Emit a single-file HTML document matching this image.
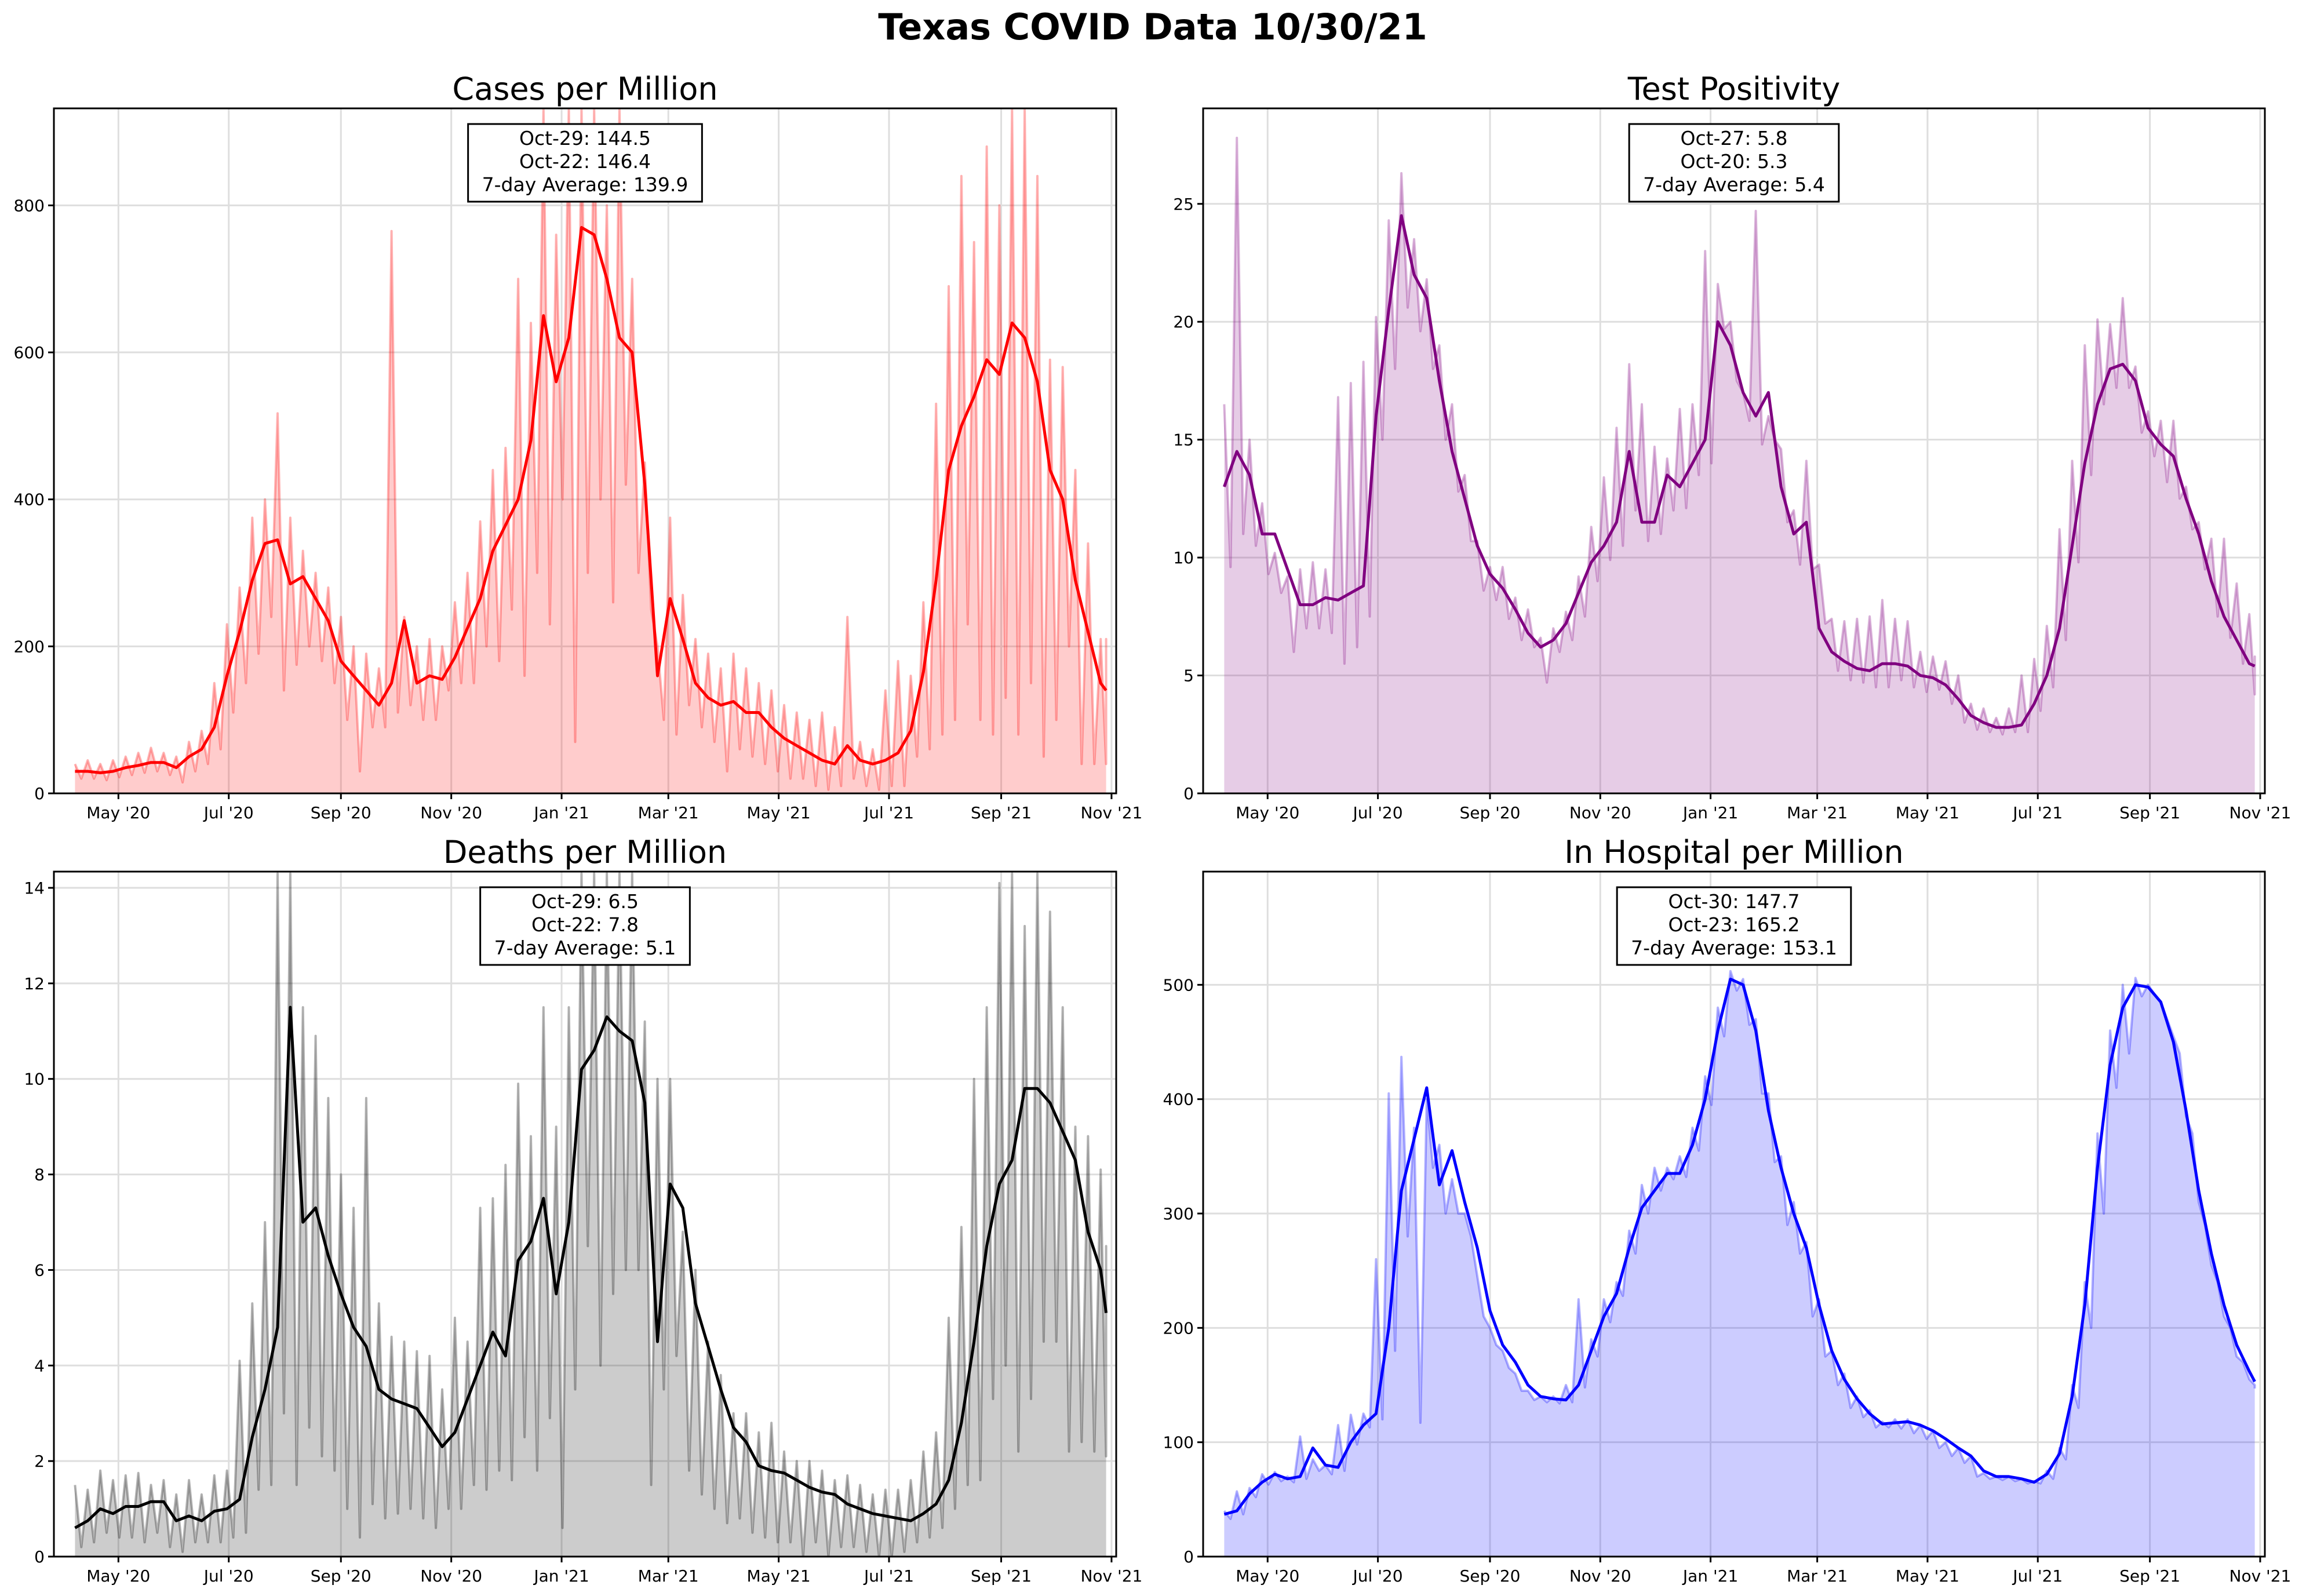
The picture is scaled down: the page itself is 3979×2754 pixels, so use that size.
<!DOCTYPE html>
<html><head><meta charset="utf-8">
<style>
html,body{margin:0;padding:0;background:#fff;}
svg{display:block;}
text{font-family:"DejaVu Sans","Liberation Sans",sans-serif;}
</style></head>
<body>
<svg id="fig" width="3979" height="2754" viewBox="0 0 3979 2754" xmlns="http://www.w3.org/2000/svg">
<rect width="3979" height="2754" fill="#fff"/>
<text x="1989" y="68" font-size="62" font-weight="bold" text-anchor="middle">Texas COVID Data 10/30/21</text>
</svg>
<script>
// ---- data: weekly values starting 2020-04-07, last point 2021-10-29 ----
const casesSmooth=[30,30,28,30,35,38,42,42,35,50,60,90,160,220,290,340,345,285,295,265,235,180,160,140,120,150,235,150,160,155,185,225,265,330,365,400,480,650,560,620,770,760,700,620,600,420,160,265,210,150,130,120,125,110,110,90,75,65,55,45,40,65,45,40,45,55,85,165,290,440,500,540,590,570,640,620,560,440,400,290,220,150,140];
const casesHigh=[40,45,40,45,50,55,62,55,50,70,85,150,230,280,375,400,517,375,330,300,280,240,200,190,170,765,240,200,210,200,260,300,370,440,470,700,640,930,760,930,930,930,800,930,700,450,200,375,270,210,190,170,190,170,150,140,120,110,100,110,90,240,70,60,140,180,160,260,530,690,840,750,880,800,930,930,840,590,580,440,340,210,210];
const casesLow=[20,20,18,22,25,28,30,25,15,30,40,60,110,150,190,240,140,175,200,180,150,100,30,90,90,110,120,100,100,140,150,150,200,180,250,160,300,230,400,70,300,400,260,420,300,250,100,80,120,90,70,30,60,50,40,30,20,20,10,5,10,20,10,5,10,10,50,60,80,100,230,100,80,130,80,150,50,100,200,40,40,40,145];

const posSmooth=[13,14.5,13.5,11,11,9.5,8,8,8.3,8.2,8.5,8.8,16,20.5,24.5,22,21,17.5,14.5,12.5,10.5,9.3,8.7,7.8,6.8,6.2,6.5,7.2,8.5,9.8,10.5,11.5,14.5,11.5,11.5,13.5,13,14,15,20,19,17,16,17,13,11,11.5,7,6,5.6,5.3,5.2,5.5,5.5,5.4,5.0,4.9,4.6,4.0,3.3,3.0,2.8,2.8,2.9,3.8,5.0,7,10.5,14,16.5,18,18.2,17.5,15.5,14.8,14.3,12.5,11,9,7.5,6.5,5.5,5.4];
const posHigh=[16.5,27.8,15,12.3,10.2,9.2,9.5,9.8,9.5,16.8,17.4,18.3,20.2,24.3,26.3,23.5,21.8,19,16.5,13.5,10.7,9.6,9.6,8.3,7.8,6.6,7.0,7.7,9.2,11.3,13.4,15.5,18.2,16.5,14.7,14.2,16.3,16.5,23,21.6,20,17,24.7,16,14.6,12,14.1,9.7,7.4,7.3,7.4,7.5,8.2,7.4,7.3,6.0,5.8,5.6,5.0,3.8,3.6,3.2,3.6,5.0,5.7,7.1,11.2,14.1,19.0,20.1,19.9,21,18.1,16.2,15.8,15.8,13.0,11.5,10.8,10.8,8.9,7.6,5.8];
const posLow=[9.6,11,10.5,9.3,8.5,6.0,7.0,7.0,6.8,5.5,6.2,7.5,15,18,20.6,19.6,18,15,12.8,10.7,8.6,8.2,7.4,6.5,6.2,4.7,6.0,6.5,7.5,9.0,9.9,10.5,12,10.7,11,12,12.1,13.5,14,19.7,17.5,15.8,14.8,15,11.5,9.7,9.5,7.2,5.2,4.8,4.7,4.5,4.5,4.8,4.5,4.3,4.4,3.8,3.0,2.7,2.6,2.5,2.6,2.6,3.5,4.5,6.5,9.8,13.5,16.5,17.2,17.2,15.3,14.3,13.2,12.5,11.2,9.5,7.5,6.6,5.5,4.2,5.4];

const deathSmooth=[0.6,0.75,1.0,0.9,1.05,1.05,1.15,1.15,0.75,0.85,0.75,0.95,1.0,1.2,2.5,3.5,4.8,11.5,7.0,7.3,6.3,5.5,4.8,4.4,3.5,3.3,3.2,3.1,2.7,2.3,2.6,3.3,4.0,4.7,4.2,6.2,6.6,7.5,5.5,7.0,10.2,10.6,11.3,11.0,10.8,9.5,4.5,7.8,7.3,5.3,4.4,3.5,2.7,2.4,1.9,1.8,1.75,1.6,1.45,1.35,1.3,1.1,1.0,0.9,0.85,0.8,0.75,0.9,1.1,1.6,2.8,4.5,6.5,7.8,8.3,9.8,9.8,9.5,8.9,8.3,6.8,6.0,5.1];
const deathHigh=[1.5,1.4,1.8,1.6,1.7,1.75,1.5,1.6,1.3,1.6,1.3,1.7,1.8,4.1,5.3,7.0,14.3,14.3,11.5,10.9,9.6,8.0,7.3,9.6,5.3,4.6,4.5,4.3,4.2,3.5,5.0,4.5,7.3,7.5,8.2,9.9,8.8,11.5,9.0,11.5,14.3,14.3,14.3,14.3,14.3,11.2,10.0,10.0,6.8,6.0,4.5,3.8,3.0,3.0,2.6,2.8,2.2,2.0,2.0,1.8,1.6,1.7,1.5,1.3,1.4,1.4,1.6,2.2,2.6,5.0,6.9,10.0,11.5,14.1,14.3,13.2,14.3,13.5,11.5,9.0,8.8,8.1,6.5];
const deathLow=[0.2,0.3,0.5,0.4,0.4,0.3,0.5,0.2,0.1,0.3,0.3,0.3,0.4,0.5,1.4,1.5,3.0,1.5,2.7,2.1,1.8,1.0,0.4,1.1,0.8,0.9,1.0,0.8,0.6,1.0,1.0,1.5,1.4,1.8,1.6,2.5,1.8,2.9,0.6,3.5,6.5,4.0,5.5,6.0,6.0,1.5,3.5,4.2,1.8,1.3,1.0,0.7,0.8,0.5,0.4,0.3,0.3,0.0,0.3,0.0,0.2,0.2,0.1,0.0,0.0,0.1,0.3,0.4,0.6,1.0,1.5,1.6,3.3,4.0,2.2,3.3,4.5,4.5,2.2,2.4,2.2,2.1,5.5];

const hospSmooth=[37,40,55,65,72,68,70,95,80,78,100,115,125,200,320,365,410,325,355,310,270,215,185,170,150,140,138,137,150,180,210,230,270,305,320,335,335,360,400,460,505,500,460,390,340,300,270,220,180,155,138,125,116,117,118,115,110,103,95,88,75,70,70,68,65,72,90,140,220,340,430,480,500,498,485,450,390,320,265,220,185,162,153];
const hospHigh=[40,57,60,72,74,70,105,85,80,115,124,125,260,405,437,375,400,360,330,300,245,200,180,160,145,140,140,150,225,190,225,240,285,325,340,340,350,375,420,480,512,505,470,405,350,310,275,225,180,160,140,128,118,120,120,115,110,100,95,88,73,70,70,68,66,75,95,150,240,370,460,500,506,500,485,455,385,310,255,210,175,155,148];
const hospLow=[33,37,52,63,66,65,68,75,72,75,98,113,120,180,280,117,340,300,300,280,210,185,165,145,137,135,134,135,148,175,205,228,265,300,320,330,332,355,395,455,495,465,405,345,290,265,210,175,150,130,122,113,113,112,108,103,95,88,82,70,68,67,66,64,64,68,85,130,200,300,410,440,490,492,470,440,370,290,240,200,170,150,147];

const monthTicks=["May '20","Jul '20","Sep '20","Nov '20","Jan '21","Mar '21","May '21","Jul '21","Sep '21","Nov '21"];
const casesTicks=[0,200,400,600,800];
const posTicks=[0,5,10,15,20,25];
const deathTicks=[0,2,4,6,8,10,12,14];
const hospTicks=[0,100,200,300,400,500];
const casesNote=["Oct-29: 144.5","Oct-22: 146.4","7-day Average: 139.9"];
const posNote=["Oct-27: 5.8","Oct-20: 5.3","7-day Average: 5.4"];
const deathNote=["Oct-29: 6.5","Oct-22: 7.8","7-day Average: 5.1"];
const hospNote=["Oct-30: 147.7","Oct-23: 165.2","7-day Average: 153.1"];

const NS="http://www.w3.org/2000/svg";
const fig=document.getElementById('fig');
const DAY=86400000;
const START=Date.UTC(2020,3,7), END=Date.UTC(2021,9,29);
const XMIN=Date.UTC(2020,2,26,8), XMAX=Date.UTC(2021,10,3,14);
const tickDates=[[2020,4],[2020,6],[2020,8],[2020,10],[2021,0],[2021,2],[2021,4],[2021,6],[2021,8],[2021,10]].map(d=>Date.UTC(d[0],d[1],1));

function mk(tag,attrs,parent){const e=document.createElementNS(NS,tag);for(const k in attrs)e.setAttribute(k,attrs[k]);(parent||fig).appendChild(e);return e;}

function panel(o){
  const g=mk('g',{});
  
  
  const L=o.box[0],T=o.box[1],R=o.box[2],B=o.box[3];
  const xs=t=>L+(t-XMIN)/(XMAX-XMIN)*(R-L);
  const ys=v=>B-v/o.ymax*(B-T);
  const dateOf=(k,off)=>Math.min(START+(k*7+off)*DAY,END);
  const cid='clip-'+o.name;
  const cp=mk('clipPath',{id:cid},g);mk('rect',{x:L,y:T,width:R-L,height:B-T},cp);
  // grid
  o.ticks.forEach(v=>{const l=mk('line',{x1:L,x2:R,y1:ys(v),y2:ys(v),stroke:'#dedede','stroke-width':3},g);});
  tickDates.forEach(t=>{const l=mk('line',{x1:xs(t),x2:xs(t),y1:T,y2:B,stroke:'#dedede','stroke-width':3},g);});
  const dg=mk('g',{'clip-path':'url(#'+cid+')'},g);
  // raw series: high then low each week
  const raw=[];
  o.high.forEach((v,k)=>{raw.push([dateOf(k,0),v]);raw.push([dateOf(k,3.5),o.low[k]]);});
  const rawPts=raw.map(p=>xs(p[0]).toFixed(1)+','+ys(p[1]).toFixed(1));
  const area=mk('path',{d:'M'+xs(START).toFixed(1)+','+ys(0)+' L'+rawPts.join(' L')+' L'+xs(raw[raw.length-1][0]).toFixed(1)+','+ys(0)+'Z',fill:o.color,'fill-opacity':0.2,stroke:'none'},dg);
  
  
  const rl=mk('path',{d:'M'+rawPts.join(' L'),fill:'none',stroke:o.color,'stroke-opacity':0.3,'stroke-width':4,'stroke-linejoin':'round'},dg);
  
  
  const sPts=o.smooth.map((v,k)=>xs(dateOf(k,0)).toFixed(1)+','+ys(v).toFixed(1));
  const sl=mk('path',{d:'M'+sPts.join(' L'),fill:'none',stroke:o.color,'stroke-width':5,'stroke-linejoin':'round'},dg);
  
  
  // spines
  const sp=mk('rect',{x:L,y:T,width:R-L,height:B-T,fill:'none',stroke:'#000','stroke-width':3},g);
  
  
  // ticks
  o.ticks.forEach(v=>{mk('line',{x1:L-10,x2:L,y1:ys(v),y2:ys(v),stroke:'#000','stroke-width':3},g);
    const t=mk('text',{x:L-16,y:ys(v)+10,'font-size':28,'text-anchor':'end'},g);t.textContent=v;
    
    });
  tickDates.forEach((d,i)=>{mk('line',{x1:xs(d),x2:xs(d),y1:B,y2:B+10,stroke:'#000','stroke-width':3},g);
    const t=mk('text',{x:xs(d),y:B+43,'font-size':28,'text-anchor':'middle'},g);t.textContent=monthTicks[i];
    
    });
  // title
  const tt=mk('text',{x:(L+R)/2,y:T-15,'font-size':54,'text-anchor':'middle'},g);tt.textContent=o.title;
  
  
  // annotation
  const ag=mk('g',{},g);
  
  
  const rect=mk('rect',{y:T+27,height:134,fill:'#fff',stroke:'#000','stroke-width':3},ag);
  let w=0;
  o.note.forEach((s,i)=>{const t=mk('text',{x:(L+R)/2,y:T+63+i*40,'font-size':33,'text-anchor':'middle'},ag);t.textContent=s;w=Math.max(w,t.getComputedTextLength());});
  rect.setAttribute('x',(L+R)/2-w/2-24);rect.setAttribute('width',w+48);
}
panel({name:'cases-panel',title:'Cases per Million',box:[93,187,1926,1369],ymax:932,ticks:casesTicks,color:'#ff0000',smooth:casesSmooth,high:casesHigh,low:casesLow,note:casesNote});
panel({name:'positivity-panel',title:'Test Positivity',box:[2076,187,3908,1369],ymax:29.05,ticks:posTicks,color:'#800080',smooth:posSmooth,high:posHigh,low:posLow,note:posNote});
panel({name:'deaths-panel',title:'Deaths per Million',box:[93,1504,1926,2686],ymax:14.34,ticks:deathTicks,color:'#000000',smooth:deathSmooth,high:deathHigh,low:deathLow,note:deathNote});
panel({name:'hospital-panel',title:'In Hospital per Million',box:[2076,1504,3908,2686],ymax:599,ticks:hospTicks,color:'#0000ff',smooth:hospSmooth,high:hospHigh,low:hospLow,note:hospNote});
</script>
</body></html>
